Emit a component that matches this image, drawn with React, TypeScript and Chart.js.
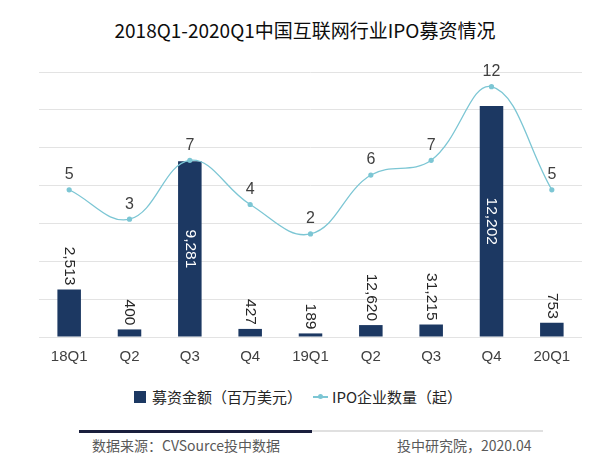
import React, { useEffect, useRef } from "react";
import { Chart, registerables } from "chart.js";

Chart.register(...registerables);

const categories = ["18Q1", "Q2", "Q3", "Q4", "19Q1", "Q2", "Q3", "Q4", "20Q1"];
// bar heights (百万美元)
const fundAmounts = [2513, 400, 9281, 427, 189, 630, 660, 12202, 753];
// labels as printed in the picture
const fundLabels = ["2,513", "400", "9,281", "427", "189", "12,620", "31,215", "12,202", "753"];
const ipoCounts = [5, 3, 7, 4, 2, 6, 7, 12, 5];

const BAR_COLOR = "#1c3862";
const LINE_COLOR = "#7cc6d4";
const CJK = '"Noto Sans CJK SC", "Noto Sans", sans-serif';
const LATIN = '"Liberation Sans", Arial, sans-serif';

const labelPlugin = {
  id: "valueLabels",
  afterDatasetsDraw(chart: any) {
    const ctx = chart.ctx;
    ctx.save();
    const barMeta = chart.getDatasetMeta(0);
    ctx.font = `15.5px ${LATIN}`;
    barMeta.data.forEach((bar: any, i: number) => {
      const { x, y, base } = bar.getProps(["x", "y", "base"], true);
      const h = base - y;
      ctx.save();
      if (h > 100) {
        ctx.translate(x, (y + base) / 2);
        ctx.rotate(Math.PI / 2);
        ctx.textAlign = "center";
        ctx.fillStyle = "#ffffff";
      } else {
        ctx.translate(x, y - 4);
        ctx.rotate(Math.PI / 2);
        ctx.textAlign = "right";
        ctx.fillStyle = "#262626";
      }
      ctx.textBaseline = "middle";
      ctx.fillText(fundLabels[i], 0, 0);
      ctx.restore();
    });
    const lineMeta = chart.getDatasetMeta(1);
    ctx.font = `16px ${LATIN}`;
    ctx.fillStyle = "#404040";
    ctx.textAlign = "center";
    ctx.textBaseline = "middle";
    lineMeta.data.forEach((pt: any, i: number) => {
      ctx.fillText(String(ipoCounts[i]), pt.x, pt.y - 15);
    });
    ctx.restore();
  },
};

export default function App() {
  const canvasRef = useRef<HTMLCanvasElement | null>(null);

  useEffect(() => {
    document.body.style.margin = "0";
    const canvas = canvasRef.current;
    if (!canvas) return;
    const chart = new Chart(canvas, {
      type: "bar",
      data: {
        labels: categories,
        datasets: [
          {
            type: "bar",
            label: "募资金额（百万美元）",
            data: fundAmounts,
            backgroundColor: BAR_COLOR,
            yAxisID: "y",
            barPercentage: 0.39,
            categoryPercentage: 1,
            order: 2,
          } as any,
          {
            type: "line",
            label: "IPO企业数量（起）",
            data: ipoCounts,
            borderColor: LINE_COLOR,
            backgroundColor: LINE_COLOR,
            borderWidth: 1.3,
            pointRadius: 2.6,
            pointBorderWidth: 0,
            pointBackgroundColor: LINE_COLOR,
            tension: 0.4,
            yAxisID: "y2",
            order: 1,
          } as any,
        ],
      },
      options: {
        responsive: false,
        animation: false,
        devicePixelRatio: 1,
        layout: { padding: { top: 72, left: 39, right: 28, bottom: 14 } },
        plugins: {
          legend: { display: false },
          tooltip: { enabled: false },
          title: { display: false },
        },
        scales: {
          x: {
            grid: { display: false, drawTicks: false },
            border: { display: false },
            ticks: {
              color: "#404040",
              font: { family: LATIN, size: 15 },
              padding: 11,
              maxRotation: 0,
              autoSkip: false,
            },
            afterFit: (s: any) => {
              s.height = 29;
            },
          },
          y: {
            min: 0,
            max: 14000,
            ticks: { display: false, stepSize: 2000 },
            grid: { color: "#e3e3e3", drawTicks: false, lineWidth: 1 },
            border: { display: false },
            afterFit: (s: any) => {
              s.width = 0;
            },
          },
          y2: {
            display: false,
            min: -5,
            max: 13,
          },
        },
      },
      plugins: [labelPlugin],
    });
    return () => chart.destroy();
  }, []);

  return (
    <div
      style={{
        position: "absolute",
        left: 0,
        top: 0,
        width: 610,
        height: 467,
        background: "#ffffff",
        overflow: "hidden",
      }}
    >
      <div
        style={{
          position: "absolute",
          left: 0,
          top: 16,
          width: 610,
          textAlign: "center",
          fontFamily: CJK,
          fontSize: 19,
          lineHeight: "28px",
          color: "#0d0d0d",
        }}
      >
        2018Q1-2020Q1中国互联网行业IPO募资情况
      </div>
      <canvas
        ref={canvasRef}
        width={610}
        height={380}
        style={{ position: "absolute", left: 0, top: 0, width: 610, height: 380 }}
      />
      {/* legend */}
      <div
        style={{
          position: "absolute",
          left: 134,
          top: 391,
          width: 12,
          height: 12,
          background: BAR_COLOR,
        }}
      />
      <div
        style={{
          position: "absolute",
          left: 152,
          top: 386,
          fontFamily: CJK,
          fontSize: 15,
          lineHeight: "22px",
          color: "#262626",
          whiteSpace: "nowrap",
        }}
      >
        募资金额（百万美元）
      </div>
      <div
        style={{
          position: "absolute",
          left: 313,
          top: 396,
          width: 15,
          height: 1.5,
          background: LINE_COLOR,
        }}
      />
      <div
        style={{
          position: "absolute",
          left: 318,
          top: 394,
          width: 5,
          height: 5,
          borderRadius: "50%",
          background: LINE_COLOR,
        }}
      />
      <div
        style={{
          position: "absolute",
          left: 332,
          top: 386,
          fontFamily: CJK,
          fontSize: 15,
          lineHeight: "22px",
          color: "#262626",
          whiteSpace: "nowrap",
        }}
      >
        IPO企业数量（起）
      </div>
      {/* footer */}
      <div
        style={{
          position: "absolute",
          left: 79,
          top: 430,
          width: 233,
          height: 2.5,
          background: "#1a1f3d",
        }}
      />
      <div
        style={{
          position: "absolute",
          left: 312,
          top: 430,
          width: 231,
          height: 2,
          background: "#e0e0e0",
        }}
      />
      <div
        style={{
          position: "absolute",
          left: 92,
          top: 435,
          fontFamily: CJK,
          fontSize: 14,
          lineHeight: "20px",
          color: "#595959",
          whiteSpace: "nowrap",
        }}
      >
        数据来源：CVSource投中数据
      </div>
      <div
        style={{
          position: "absolute",
          left: 397,
          top: 435,
          fontFamily: CJK,
          fontSize: 14,
          lineHeight: "20px",
          color: "#595959",
          whiteSpace: "nowrap",
        }}
      >
        投中研究院，2020.04
      </div>
    </div>
  );
}
